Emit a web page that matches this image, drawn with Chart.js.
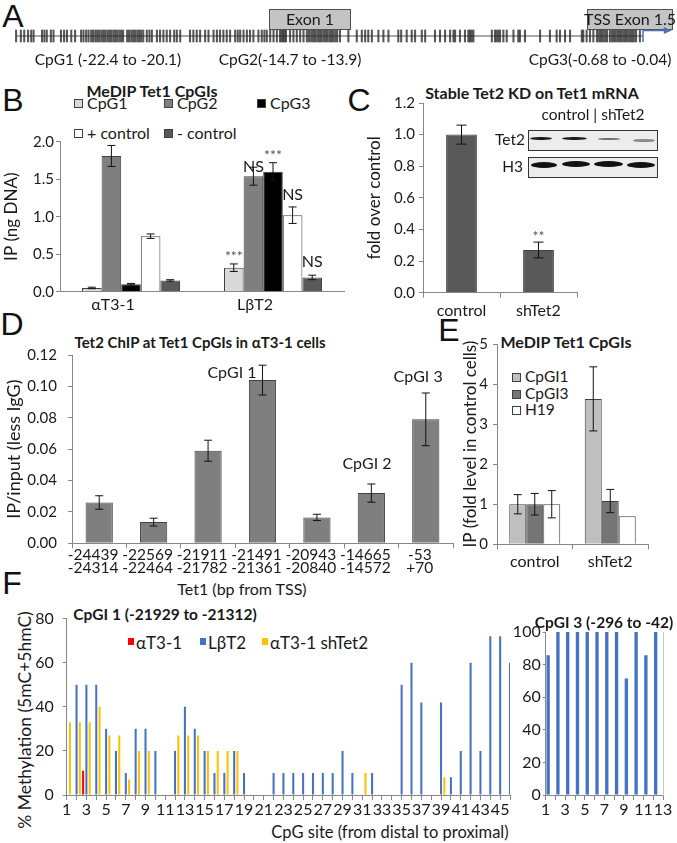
<!DOCTYPE html>
<html>
<head>
<meta charset="utf-8">
<script src="https://cdn.jsdelivr.net/npm/chart.js@4.4.0/dist/chart.umd.min.js"></script>
<style>
  body { margin: 0; background: #fff; }
  #fig { position: relative; width: 677px; height: 843px; overflow: hidden; background: #fff;
         font-family: Lato, sans-serif; color: #1a1a1a; }
  canvas { position: absolute; }
  .t { position: absolute; white-space: nowrap; line-height: 1; transform: translate(-50%, -50%); }
  .sw { position: absolute; box-sizing: border-box; }
  .band { position: absolute; border-radius: 50%; filter: blur(0.7px); }
</style>
</head>
<body>
<div id="fig"></div>
<script>
// ---------- data ----------
// A: CpG dinucleotides along Tet1 (kb from TSS)
const cpgSites = [-26.13, -25.93, -25.79, -25.63, -25.50, -25.40, -25.05, -24.95, -24.85, -24.68, -24.57,
  -24.26, -24.13, -24.01, -23.83, -23.67, -23.42, -23.32, -23.21, -23.11,
  -23.00, -22.92, -22.83, -22.75, -22.67, -22.58, -22.50, -22.42, -22.33, -22.25, -22.17, -22.08, -22.00,
  -21.92, -21.83, -21.75, -21.67, -21.50, -21.42, -21.33, -21.25, -21.17, -21.08, -21.00, -20.92, -20.83,
  -20.68, -20.57, -20.47, -20.26, -20.13, -19.99, -19.85, -19.71, -19.54, -19.43, -19.29, -18.88, -18.74,
  -18.60, -18.46, -18.25, -18.11, -17.90, -17.76, -17.63, -17.49, -17.35, -17.21, -17.00, -16.89, -16.79,
  -16.65, -16.51, -16.38, -16.24, -16.03, -15.89, -15.78, -15.68, -15.54, -15.40, -15.26, -15.13, -15.06,
  -15.00, -14.94, -14.88, -14.71, -14.57, -14.43, -14.29, -14.15, -14.01, -13.92, -13.83, -13.75, -13.67,
  -13.58, -13.50, -13.42, -13.33, -13.25, -13.17, -13.08, -13.00, -12.92, -12.83, -12.75, -12.63, -12.28,
  -11.93, -11.72, -11.58, -11.45, -11.30, -11.03, -10.82, -10.61, -10.20, -10.08, -9.85, -9.64, -9.50,
  -9.22, -9.08, -8.67, -8.46, -8.25, -8.04, -7.90, -7.83, -7.63, -7.42, -7.28, -7.21, -7.14, -7.07, -6.30,
  -6.17, -6.10, -6.03, -5.96, -5.82, -5.68, -5.40, -5.20, -5.13, -4.92, -4.29, -3.88, -3.60, -3.46, -3.25,
  -3.04, -2.55, -2.49, -2.35, -2.21, -2.07, -1.92, -1.83, -1.75, -1.67, -1.58, -1.50, -1.38, -1.29, -1.21,
  -1.13, -1.04, -0.96, -0.88, -0.79, -0.71, -0.63, -0.54, -0.46, -0.38, -0.29, -0.13];
const exons = [{from: -15.59, to: -12.17, text: 'Exon 1'}, {from: -2.33, to: 1.25, text: 'TSS Exon 1.5'}];
const islandLabels = [{at: -22.3, text: 'CpG1 (-22.4 to -20.1)'}, {at: -14.71, text: 'CpG2(-14.7 to -13.9)'},
  {at: -1.79, text: 'CpG3(-0.68 to -0.04)'}];

// B: MeDIP
const cellLines = ['αT3-1', 'LβT2'];
const medipCpG1 = [0.05, 0.32], medipCpG1Err = [0.01, 0.05];
const medipCpG2 = [1.81, 1.54], medipCpG2Err = [0.14, 0.12];
const medipCpG3 = [0.10, 1.60], medipCpG3Err = [0.01, 0.12];
const medipPos = [0.74, 1.02], medipPosErr = [0.03, 0.11];
const medipNeg = [0.15, 0.19], medipNegErr = [0.01, 0.03];

// C: Tet1 mRNA after Tet2 KD
const kdGroups = ['control', 'shTet2'];
const tet1mRNA = [1.00, 0.27], tet1mRNAErr = [0.06, 0.05];

// D: Tet2 ChIP
const chipRegions = [['-24439', '-24314'], ['-22569', '-22464'], ['-21911', '-21782'], ['-21491', '-21361'],
  ['-20943', '-20840'], ['-14665', '-14572'], ['-53', '+70']];
const chipTet2 = [0.026, 0.0135, 0.059, 0.104, 0.0165, 0.032, 0.079];
const chipTet2Err = [0.0043, 0.0025, 0.0067, 0.0095, 0.0020, 0.0058, 0.0168];

// E: MeDIP after KD
const kdCpGI1 = [1.00, 3.63], kdCpGI1Err = [0.24, 0.80];
const kdCpGI3 = [1.00, 1.08], kdCpGI3Err = [0.27, 0.29];
const kdH19 = [1.00, 0.70], kdH19Err = [0.34, 0];

// F: bisulfite, % methylation per CpG site
const sites1 = ['1','2','3','4','5','6','7','8','9','10','11','12','13','14','15','16','17','18','19','20','21','22','23',
  '24','25','26','27','28','29','30','31','32','33','34','35','36','37','38','39','40','41','42','43','44','45','46'];
const metAT31 = [0,0,11,0,0,0,0,0,0,0, 0,0,0,0,0,0,0,0,0,0, 0,0,0,0,0,0,0,0,0,0, 0,0,0,0,0,0,0,0,0,0, 0,0,0,0,0,0];
const metLBT1 = [0,50,50,50,30,20,10,30,30,20, 0,20,40,30,20,10,10,20,10,0, 0,10,10,10,10,10,10,10,20,10,
  0,10,0,0,50,60,42,0,42,8, 20,60,20,72,72,60];
const metShTet1 = [33,33,33,40,27,27,7,20,20,0, 0,27,27,27,20,20,20,20,0,0, 0,0,0,0,0,0,0,0,0,0,
  10,0,0,0,0,0,0,0,8,0, 0,0,0,0,0,0];
const sites3 = ['1','2','3','4','5','6','7','8','9','10','11','12','13'];
const metAT33 = [0,0,0,0,0,0,0,0,0,0,0,0,0];
const metLBT3 = [85.7,100,100,100,100,100,100,100,71.4,100,85.7,100,100];

// ---------- helpers ----------
const fig = document.getElementById('fig');
const gray = '#878787';
const FONT = 'Lato, sans-serif';
Chart.defaults.font.family = FONT;
Chart.defaults.font.size = 15;
Chart.defaults.color = '#1a1a1a';
Chart.defaults.animation = false;
Chart.defaults.responsive = false;
Chart.defaults.plugins.legend.display = false;
Chart.defaults.plugins.tooltip.enabled = false;

function panel(x, y, w, h) {
  const c = document.createElement('canvas');
  c.width = w; c.height = h;
  c.style.left = x + 'px'; c.style.top = y + 'px';
  fig.appendChild(c);
  return c;
}
function put(str, x, y, css) {
  const d = document.createElement('div');
  d.className = 't';
  d.textContent = str;
  d.style.left = x + 'px'; d.style.top = y + 'px';
  if (css) d.style.cssText += ';' + css;
  fig.appendChild(d);
  return d;
}
function swatch(x, y, w, h, color, border) {
  const d = document.createElement('div');
  d.className = 'sw';
  d.style.cssText = `left:${x}px;top:${y}px;width:${w}px;height:${h}px;background:${color};` +
    (border ? `border:1px solid ${border};` : '');
  fig.appendChild(d);
}

const errorBars = {
  id: 'errorBars',
  afterDatasetsDraw(chart, args, opts) {
    const {ctx} = chart, y = chart.scales.y, cap = opts.cap || 4;
    chart.data.datasets.forEach((ds, di) => {
      if (!ds.errors) return;
      chart.getDatasetMeta(di).data.forEach((bar, i) => {
        const e = ds.errors[i];
        if (!e) return;
        const top = y.getPixelForValue(ds.data[i] + e), bot = y.getPixelForValue(ds.data[i] - e);
        ctx.save();
        ctx.strokeStyle = '#111'; ctx.lineWidth = 1;
        ctx.beginPath();
        ctx.moveTo(bar.x, top); ctx.lineTo(bar.x, bot);
        ctx.moveTo(bar.x - cap, top); ctx.lineTo(bar.x + cap, top);
        ctx.moveTo(bar.x - cap, bot); ctx.lineTo(bar.x + cap, bot);
        ctx.stroke();
        ctx.restore();
      });
    });
  }
};

const notes = {
  id: 'notes',
  afterDatasetsDraw(chart, args, opts) {
    const {ctx} = chart, {x, y} = chart.scales;
    (opts.items || []).forEach(n => {
      const px = n.ds !== undefined ? chart.getDatasetMeta(n.ds).data[n.i].x : x.getPixelForValue(n.x);
      ctx.save();
      ctx.font = n.font || '15px ' + FONT;
      ctx.fillStyle = n.color || '#1a1a1a';
      ctx.textAlign = 'center'; ctx.textBaseline = 'middle';
      ctx.fillText(n.text, px, y.getPixelForValue(n.y));
      ctx.restore();
    });
  }
};

// gene diagram: body line, exon boxes, TSS arrow, island labels
const geneMap = {
  id: 'geneMap',
  beforeDatasetsDraw(chart) {
    const {ctx} = chart, {x, y} = chart.scales;
    ctx.save();
    ctx.strokeStyle = '#555'; ctx.lineWidth = 1;
    ctx.beginPath();
    ctx.moveTo(x.getPixelForValue(cpgSites[0]), y.getPixelForValue(0));
    ctx.lineTo(x.getPixelForValue(0), y.getPixelForValue(0));
    ctx.stroke();
    ctx.restore();
  },
  afterDatasetsDraw(chart) {
    const {ctx} = chart, {x, y} = chart.scales;
    ctx.save();
    exons.forEach(ex => {
      const l = x.getPixelForValue(ex.from), r = x.getPixelForValue(ex.to);
      const t = y.getPixelForValue(5.4), b = y.getPixelForValue(1.4);
      ctx.fillStyle = '#c4c4c4'; ctx.strokeStyle = '#505050'; ctx.lineWidth = 1;
      ctx.fillRect(l, t, r - l, b - t);
      ctx.strokeRect(Math.round(l) + 0.5, Math.round(t) + 0.5, Math.round(r - l) - 1, Math.round(b - t));
      ctx.fillStyle = '#1a1a1a'; ctx.font = '16px ' + FONT;
      ctx.textAlign = 'center'; ctx.textBaseline = 'middle';
      ctx.fillText(ex.text, (l + r) / 2, (t + b) / 2 + 1);
    });
    // TSS arrow
    const x0 = x.getPixelForValue(0), x1 = x.getPixelForValue(1.2);
    const yb = y.getPixelForValue(-1.2), ya = y.getPixelForValue(1.1);
    ctx.strokeStyle = '#4a72b0'; ctx.fillStyle = '#4a72b0'; ctx.lineWidth = 1.5;
    ctx.beginPath(); ctx.moveTo(x0, yb); ctx.lineTo(x0, ya); ctx.lineTo(x1 - 6, ya); ctx.stroke();
    ctx.beginPath(); ctx.moveTo(x1, ya); ctx.lineTo(x1 - 8, ya - 3.5); ctx.lineTo(x1 - 8, ya + 3.5); ctx.closePath(); ctx.fill();
    // island labels
    ctx.fillStyle = '#1a1a1a'; ctx.font = '15.5px ' + FONT;
    ctx.textAlign = 'center'; ctx.textBaseline = 'middle';
    islandLabels.forEach(l => ctx.fillText(l.text, x.getPixelForValue(l.at), y.getPixelForValue(-4.8)));
    ctx.restore();
  }
};

function yTicksAxis(min, max, step, digits, width, tickPad, extra) {
  return Object.assign({
    min, max,
    ticks: {stepSize: step, padding: tickPad, callback: v => v.toFixed(digits)},
    grid: {drawOnChartArea: false, tickLength: 4, color: gray},
    border: {color: gray},
    afterFit: s => { s.width = width; }
  }, extra || {});
}
function xCatAxis(height, tickLen, pad, extra) {
  return Object.assign({
    ticks: {padding: pad, maxRotation: 0, autoSkip: false},
    grid: {drawOnChartArea: false, drawTicks: tickLen > 0, tickLength: tickLen, color: gray},
    border: {color: gray},
    afterFit: s => { s.height = height; }
  }, extra || {});
}
const barStyle = {borderColor: '#404040', borderWidth: 1};

// ---------- panel letters ----------
[['A', 13, 16], ['B', 13, 100], ['C', 359, 100], ['D', 12, 324], ['E', 449, 330], ['F', 12, 583]].forEach(l =>
  put(l[0], l[1], l[2], "font-family:'Liberation Sans',Arial,sans-serif;font-size:32px;color:#111"));

// ---------- A ----------
new Chart(panel(0, 0, 677, 80), {
  type: 'bar',
  data: {datasets: [{data: cpgSites.map(k => ({x: k, y: [-1.2, 1.2]})),
    backgroundColor: 'rgba(40,40,40,0.78)', barThickness: 1.4}]},
  options: {
    layout: {padding: {left: 12, right: 4, top: 0, bottom: 0}},
    scales: {x: {type: 'linear', offset: false, min: -26.3, max: 1.25, display: false},
             y: {min: -8.8, max: 7.2, display: false}}
  },
  plugins: [geneMap]
});

// ---------- B ----------
put('MeDIP Tet1 CpGIs', 152, 91, 'font-weight:bold;font-size:16px');
[[74, 103, '#d9d9d9', 'CpG1'], [164, 103, '#7f7f7f', 'CpG2'], [257, 103, '#000', 'CpG3'],
 [74, 133, '#fff', '+ control'], [164, 133, '#595959', '- control']].forEach(l => {
  swatch(l[0], l[1] - 4, 9, 9, l[2], '#404040');
  put(l[3], l[0] + 13, l[1], 'transform:translate(0,-50%);font-size:16px');
});
new Chart(panel(0, 130, 350, 200), {
  type: 'bar',
  data: {
    labels: cellLines,
    datasets: [
      {data: medipCpG1, errors: medipCpG1Err, backgroundColor: '#d9d9d9'},
      {data: medipCpG2, errors: medipCpG2Err, backgroundColor: '#7f7f7f'},
      {data: medipCpG3, errors: medipCpG3Err, backgroundColor: '#000'},
      {data: medipPos, errors: medipPosErr, backgroundColor: '#fff'},
      {data: medipNeg, errors: medipNegErr, backgroundColor: '#595959'}
    ].map(d => Object.assign(d, barStyle, {categoryPercentage: 0.69, barPercentage: 1}))
  },
  options: {
    layout: {padding: {top: 11.7, right: 6}},
    scales: {
      x: xCatAxis(38.3, 0, 3.3, {ticks: {padding: 3.3, labelOffset: -18, font: {size: 16}}}),
      y: yTicksAxis(0, 2, 0.5, 1, 60, 2, {title: {display: true, text: 'IP (ng DNA)', font: {size: 17}, padding: {top: 1}}})
    },
    plugins: {
      errorBars: {cap: 4},
      notes: {items: [
        {ds: 0, i: 1, text: '***', y: 0.47, font: '14px ' + FONT, color: '#555'},
        {ds: 1, i: 1, text: 'NS', y: 1.66, font: '16px ' + FONT},
        {ds: 2, i: 1, text: '***', y: 1.81, font: '14px ' + FONT, color: '#555'},
        {ds: 3, i: 1, text: 'NS', y: 1.29, font: '16px ' + FONT},
        {ds: 4, i: 1, text: 'NS', y: 0.40, font: '16px ' + FONT}
      ]}
    }
  },
  plugins: [errorBars, notes]
});

// ---------- C ----------
put('Stable Tet2 KD on Tet1 mRNA', 532, 93, 'font-weight:bold;font-size:16px');
new Chart(panel(340, 90, 260, 240), {
  type: 'bar',
  data: {labels: kdGroups, datasets: [Object.assign({data: tet1mRNA, errors: tet1mRNAErr,
    backgroundColor: '#595959', categoryPercentage: 0.4, barPercentage: 1}, barStyle)]},
  options: {
    layout: {padding: {top: 11.7, right: 23}},
    scales: {
      x: xCatAxis(37.3, 5, 3.3, {ticks: {padding: 3.3, font: {size: 16}}}),
      y: yTicksAxis(0, 1.2, 0.2, 1, 83, 4, {title: {display: true, text: 'fold over control', font: {size: 17}, padding: {top: 24.8}}})
    },
    plugins: {errorBars: {cap: 5}, notes: {items: [{ds: 0, i: 1, text: '**', y: 0.356, font: '14px ' + FONT, color: '#555'}]}}
  },
  plugins: [errorBars, notes]
});
// western blot inset
put('control  |  shTet2', 593, 115, 'font-size:15.5px');
put('Tet2', 525, 140, 'transform:translate(-100%,-50%);font-size:15.5px');
put('H3', 523, 167, 'transform:translate(-100%,-50%);font-size:15.5px');
[[130, [[530, 136.5, 22, 3.5, '#1a1a1a'], [562, 136.5, 25, 3.5, '#1a1a1a'], [598, 137.5, 22, 2.5, '#707070'], [633, 139, 22, 2.5, '#8a8a8a']]],
 [157, [[531, 161.5, 26, 6, '#111'], [562, 160.5, 28, 6, '#111'], [594, 160.5, 29, 6, '#111'], [627, 161.5, 28, 6, '#111']]]
].forEach(row => {
  const b = document.createElement('div');
  b.className = 'sw';
  b.style.cssText = `left:528px;top:${row[0]}px;width:130px;height:21px;background:#ececec;border:1px solid #333;`;
  fig.appendChild(b);
  row[1].forEach(bd => {
    const d = document.createElement('div');
    d.className = 'band';
    d.style.cssText = `left:${bd[0]}px;top:${bd[1]}px;width:${bd[2]}px;height:${bd[3]}px;background:${bd[4]};`;
    fig.appendChild(d);
  });
});

// ---------- D ----------
put('Tet2 ChIP at Tet1 CpGIs in αT3-1 cells', 200, 342, 'font-weight:bold;font-size:15px');
put('Tet1 (bp from TSS)', 242, 589, 'font-size:16px');
new Chart(panel(0, 335, 460, 265), {
  type: 'bar',
  data: {labels: chipRegions, datasets: [Object.assign({data: chipTet2, errors: chipTet2Err,
    backgroundColor: '#7f7f7f', categoryPercentage: 0.5, barPercentage: 1}, barStyle)]},
  options: {
    layout: {padding: {top: 9.3, right: 7}},
    scales: {
      x: xCatAxis(56.7, 5, 0, {ticks: {padding: 0, labelOffset: -6, maxRotation: 0, autoSkip: false,
        font: {size: 15.5, lineHeight: 0.86}}}),
      y: yTicksAxis(0, 0.12, 0.02, 2, 72, 11, {title: {display: true, text: 'IP/input (less IgG)', font: {size: 18}, padding: {top: 3.7}}})
    },
    plugins: {errorBars: {cap: 4}, notes: {items: [
      {x: 2.44, y: 0.1087, text: 'CpGI 1', font: '16px ' + FONT},
      {x: 4.92, y: 0.0508, text: 'CpGI 2', font: '16px ' + FONT},
      {x: 5.86, y: 0.1058, text: 'CpGI 3', font: '16px ' + FONT}
    ]}}
  },
  plugins: [errorBars, notes]
});

// ---------- E ----------
put('MeDIP Tet1 CpGIs', 566, 342, 'font-weight:bold;font-size:16px');
[[377, '#bfbfbf', 'CpGI1'], [393.5, '#757575', 'CpGI3'], [410, '#fff', 'H19']].forEach(l => {
  swatch(512, l[0] - 4, 9, 9, l[1], '#404040');
  put(l[2], 525, l[0], 'transform:translate(0,-50%);font-size:15.5px');
});
new Chart(panel(455, 330, 205, 270), {
  type: 'bar',
  data: {
    labels: kdGroups,
    datasets: [
      {data: kdCpGI1, errors: kdCpGI1Err, backgroundColor: '#bfbfbf'},
      {data: kdCpGI3, errors: kdCpGI3Err, backgroundColor: '#757575'},
      {data: kdH19, errors: kdH19Err, backgroundColor: '#fff'}
    ].map(d => Object.assign(d, barStyle, {categoryPercentage: 0.675, barPercentage: 1}))
  },
  options: {
    layout: {padding: {top: 9, right: 12}},
    scales: {
      x: xCatAxis(55.7, 5, 3, {ticks: {padding: 3, font: {size: 16}}}),
      y: yTicksAxis(0, 5, 1, 0, 42, 5, {title: {display: true, text: 'IP (fold level in control cells)', font: {size: 17}, padding: {top: 5.8}}})
    },
    plugins: {errorBars: {cap: 4}}
  },
  plugins: [errorBars]
});

// ---------- F ----------
put('CpGI 1 (-21929 to -21312)', 165, 615, 'font-weight:bold;font-size:15.5px');
put('CpGI 3 (-296 to -42)', 604, 623, 'font-weight:bold;font-size:15.5px');
put('% Methylation (5mC+5hmC)', 25, 720, 'transform:translate(-50%,-50%) rotate(-90deg);font-size:17.5px');
put('CpG site (from distal to proximal)', 390, 832, 'font-size:16.5px');
[[128, '#ff0000', 'αT3-1'], [200, '#4472c4', 'LβT2'], [262, '#ffc000', 'αT3-1 shTet2']].forEach(l => {
  swatch(l[0], 638, 6, 7, l[1]);
  put(l[2], l[0] + 8, 642, 'transform:translate(0,-50%);font-size:17px');
});
function siteAxis(labels) {
  return {
    offset: false,
    grid: {offset: false, drawOnChartArea: false, tickLength: 5, color: gray},
    border: {color: gray},
    ticks: {autoSkip: false, maxRotation: 0, padding: 0, font: {size: 16},
            callback: (v, i) => (i % 2 === 0 ? labels[i] : '')},
    afterFit: s => { s.height = 48; }
  };
}
new Chart(panel(0, 600, 520, 243), {
  type: 'bar',
  data: {
    labels: sites1,
    datasets: [
      {data: metAT31, backgroundColor: '#ff0000'},
      {data: metLBT1, backgroundColor: '#4472c4'},
      {data: metShTet1, backgroundColor: '#ffc000'}
    ].map(d => Object.assign(d, {categoryPercentage: 1, barPercentage: 0.62}))
  },
  options: {
    layout: {padding: {top: 11.7, right: 10}},
    scales: {
      x: siteAxis(sites1),
      y: {min: 0, max: 80, ticks: {stepSize: 20, padding: 9, font: {size: 16}}, grid: {drawOnChartArea: false, tickLength: 4, color: gray},
          border: {color: gray}, afterFit: s => { s.width = 66.7; }}
    }
  }
});
new Chart(panel(510, 600, 167, 243), {
  type: 'bar',
  data: {
    labels: sites3,
    datasets: [
      {data: metAT33, backgroundColor: '#ff0000'},
      {data: metLBT3, backgroundColor: '#4472c4'}
    ].map(d => Object.assign(d, {categoryPercentage: 1, barPercentage: 0.68}))
  },
  options: {
    layout: {padding: {top: 32, right: 14}},
    scales: {
      x: siteAxis(sites3),
      y: {min: 0, max: 100, ticks: {stepSize: 20, padding: 2, font: {size: 16}}, grid: {drawOnChartArea: false, tickLength: 3, color: gray},
          border: {color: gray}, afterFit: s => { s.width = 35.7; }},
      y2: {position: 'right', min: 0, max: 100, ticks: {display: false}, grid: {display: false, drawTicks: false},
           border: {color: '#b4c7e7'}, afterFit: s => { s.width = 0; }}
    }
  }
});
</script>
</body>
</html>
